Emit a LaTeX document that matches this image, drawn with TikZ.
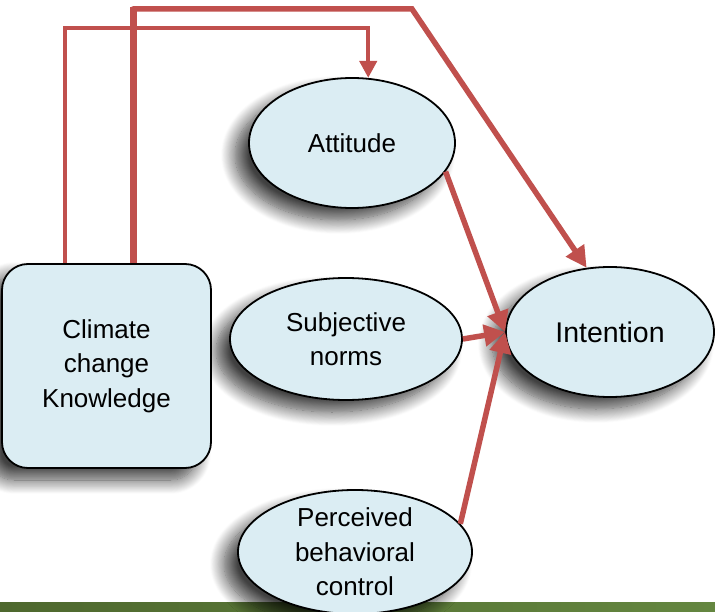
\documentclass[tikz,border=0pt]{standalone}
\usepackage{fontspec}
\setmainfont{Liberation Sans}
\usetikzlibrary{arrows.meta,shapes.geometric,shadows.blur,positioning,calc}
\definecolor{tpbblu}{RGB}{219,237,243}
\definecolor{tpbrosso}{RGB}{192,80,77}
\definecolor{tpbverdescuro}{RGB}{78,104,46}
\definecolor{tpbverde}{RGB}{100,134,64}

\begin{document}
\begin{tikzpicture}[
    x=1pt, y=-1pt,
    bubble/.style={ellipse, draw=black, line width=1.8pt, fill=tpbblu, inner sep=0pt,
        align=center, font=\fontsize{26}{34.5}\selectfont,
        blur shadow={shadow xshift=-14pt, shadow yshift=-12pt, shadow blur steps=16, shadow blur radius=14pt, shadow opacity=75}},
    link/.style={draw=tpbrosso, line width=5.5pt, -{Triangle[length=21pt,width=21pt]}}
]
\useasboundingbox (0,0) rectangle (715,612);

% Barra in basso
\fill[left color=tpbverdescuro, right color=tpbverde] (0,602) rectangle (715,612);

% Costrutti TPB
\node[bubble, minimum width=206pt, minimum height=130pt] (att) at (352,143) {Attitude};
\node[bubble, minimum width=232pt, minimum height=122pt] (subj) at (346,339) {Subjective\\norms};
\node[bubble, minimum width=234pt, minimum height=124pt, inner ysep=-12pt] (perc) at (355,552) {Perceived\\behavioral\\control};
\node[bubble, minimum width=208pt, minimum height=130pt, font=\fontsize{28.5}{34}\selectfont] (int) at (610,332) {Intention};

% Conoscenza
\node[bubble, rectangle, rounded corners=26pt, minimum width=209pt, minimum height=204pt] (know) at (106.5,366) {Climate\\change\\Knowledge};

% Punti di svolta
\coordinate (turnA) at (65,28);
\coordinate (turnB) at (133,9);
\coordinate (turnC) at (412,9);

% Frecce
\draw[link, line width=4.5pt, -{Triangle[length=17pt,width=17pt]}] (know.north -| turnA) -- (turnA) -| (att.76);
\draw[link, -, line width=7pt] (know.north -| turnB) -- ([yshift=1.5pt]turnB);
\draw[link, line cap=round] (turnB) -- (turnC) -- (int.110);
\draw[link] (att.-17) -- (int.west);
\draw[link] (subj.east) -- (int.west);
\draw[link] (perc.15) -- (int.west);

\end{tikzpicture}
\end{document}
